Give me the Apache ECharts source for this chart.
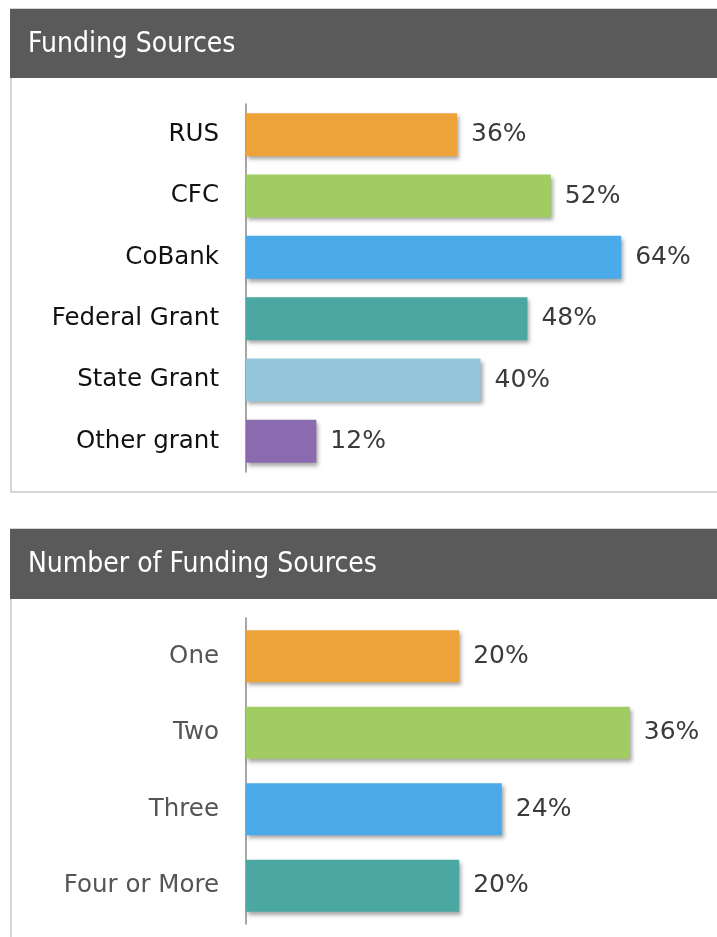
<!DOCTYPE html>
<html>
<head>
<meta charset="utf-8">
<script src="https://cdn.jsdelivr.net/npm/echarts@6/dist/echarts.min.js"></script>
<style>
  html, body { margin: 0; padding: 0; background: #fff; }
  #main { width: 717px; height: 937px; }
</style>
</head>
<body>
<div id="main"></div>
<script>
// data
var sourceNames = ['RUS', 'CFC', 'CoBank', 'Federal Grant', 'State Grant', 'Other grant'];
var sourceValues = [36, 52, 64, 48, 40, 12];
var countNames = ['One', 'Two', 'Three', 'Four or More'];
var countValues = [20, 36, 24, 20];
var barColors = ['#EDA33A', '#A0CC62', '#4AABE8', '#4AA7A1', '#93C6DA', '#8B6BAF'];

var FONT = '"DejaVu Sans", Verdana, sans-serif';
var HEAD_FONT = '"DejaVu Sans Condensed", "DejaVu Sans", sans-serif';

function colorItems(vals) {
   return vals.map(function (v, i) {
      return { value: v, itemStyle: { color: barColors[i] } };
   });
}

var chart = echarts.init(document.getElementById('main'));

var option = {
   animation: false,
   backgroundColor: '#fff',
   graphic: [
      // top panel frame + header
      { type: 'rect', shape: { x: 11, y: 9, width: 720, height: 483 }, style: { fill: '#fff', stroke: '#c9c9c9', lineWidth: 1.5 }, z: -10 },
      { type: 'rect', shape: { x: 10, y: 9, width: 720, height: 69 }, style: { fill: '#5a5a5a' }, z: -5 },
      { type: 'text', left: 28, top: 31, style: { text: 'Funding Sources', fill: '#fff', font: '28px ' + HEAD_FONT }, z: 1 },
      // bottom panel frame + header
      { type: 'rect', shape: { x: 11, y: 529, width: 720, height: 420 }, style: { fill: '#fff', stroke: '#c9c9c9', lineWidth: 1.5 }, z: -10 },
      { type: 'rect', shape: { x: 10, y: 529, width: 720, height: 70 }, style: { fill: '#5a5a5a' }, z: -5 },
      { type: 'text', left: 28, top: 551, style: { text: 'Number of Funding Sources', fill: '#fff', font: '28px ' + HEAD_FONT }, z: 1 }
   ],
   grid: [
      { left: 246, top: 104, width: 469, height: 368 },
      { left: 246, top: 618, width: 469, height: 306 }
   ],
   xAxis: [
      { gridIndex: 0, type: 'value', min: 0, max: 80, show: false },
      { gridIndex: 1, type: 'value', min: 0, max: 44, show: false }
   ],
   yAxis: [
      {
         gridIndex: 0, type: 'category', data: sourceNames, inverse: true,
         axisLine: { lineStyle: { color: '#8a8a8a', width: 1.5 } },
         axisTick: { show: false },
         axisLabel: { color: '#111', fontSize: 24.5, fontFamily: FONT, margin: 27 }
      },
      {
         gridIndex: 1, type: 'category', data: countNames, inverse: true,
         axisLine: { lineStyle: { color: '#8a8a8a', width: 1.5 } },
         axisTick: { show: false },
         axisLabel: { color: '#555', fontSize: 24.5, fontFamily: FONT, margin: 27 }
      }
   ],
   series: [
      {
         type: 'bar', xAxisIndex: 0, yAxisIndex: 0,
         data: colorItems(sourceValues),
         barCategoryGap: '30%',
         itemStyle: { shadowColor: 'rgba(0,0,0,0.35)', shadowBlur: 4, shadowOffsetX: 2, shadowOffsetY: 3 },
         label: { show: true, position: 'right', distance: 14, formatter: '{c}%', color: '#3a3a3a', fontSize: 25, fontFamily: FONT }
      },
      {
         type: 'bar', xAxisIndex: 1, yAxisIndex: 1,
         data: colorItems(countValues),
         barCategoryGap: '32%',
         itemStyle: { shadowColor: 'rgba(0,0,0,0.35)', shadowBlur: 4, shadowOffsetX: 2, shadowOffsetY: 3 },
         label: { show: true, position: 'right', distance: 14, formatter: '{c}%', color: '#3a3a3a', fontSize: 25, fontFamily: FONT }
      }
   ]
};

chart.setOption(option);
</script>
</body>
</html>
